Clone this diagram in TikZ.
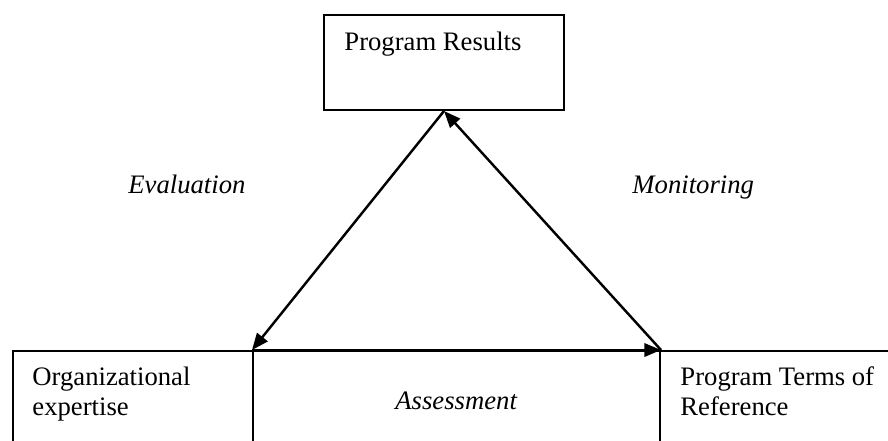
\documentclass[tikz,border=0pt]{standalone}
\usepackage{fontspec}
\setmainfont{Liberation Serif}
\usetikzlibrary{arrows.meta}
\begin{document}
\begin{tikzpicture}[x=0.45pt,y=-0.45pt,
  boxline/.style={line width=0.9pt},
  lbl/.style={anchor=base west, inner sep=0pt, font=\fontsize{12}{13.5}\selectfont},
  ilbl/.style={lbl, font=\fontsize{12}{13.5}\selectfont\itshape},
  conn/.style={line width=1.1pt, -{Triangle[length=7.5pt,width=6pt]}}]
\useasboundingbox (0,0) rectangle (888,440);
% top box
\node[draw, boxline, minimum width=108pt, minimum height=42.75pt, inner sep=0pt, anchor=north west] (top) at (323,14) {};
\node[lbl] (toptxt) at (344,50) {Program Results};
% bottom boxes
\node[draw, boxline, minimum width=108pt, minimum height=49.5pt, inner sep=0pt, anchor=north west] (lbox) at (12,350) {};
\node[draw, boxline, minimum width=183.15pt, minimum height=49.5pt, inner sep=0pt, anchor=north west] (mbox) at (252,350) {};
\node[draw, boxline, minimum width=110pt, minimum height=49.5pt, inner sep=0pt, anchor=north west] (rbox) at (659,350) {};
\node[lbl] (ltxt1) at (32,385) {Organizational};
\node[lbl] (ltxt2) at (32,415) {expertise};
\node[lbl] (rtxt1) at (680,385) {Program Terms of};
\node[lbl] (rtxt2) at (680,415) {Reference};
% corner points
\coordinate (A) at (top.south);
\coordinate (L) at (mbox.north west);
\coordinate (R) at (mbox.north east);
\draw[conn] (A) -- (L);
\draw[conn] (L) -- (R);
\draw[conn] (R) -- (A);
% labels
\node[ilbl] (ev) at (128,193) {Evaluation};
\node[ilbl] (mo) at (632,193) {Monitoring};
\node[ilbl] (as) at (395,409) {Assessment};
\end{tikzpicture}
\end{document}
